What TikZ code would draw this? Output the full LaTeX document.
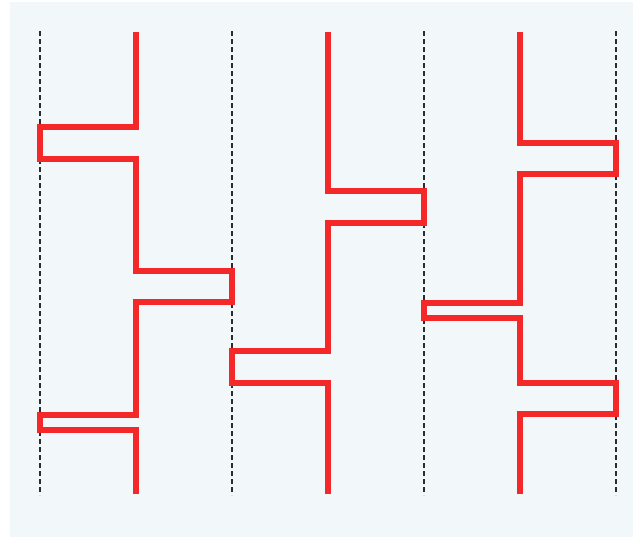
\documentclass[tikz,border=0pt]{standalone}
\usepackage{tikz}
\usetikzlibrary{calc}
\definecolor{bg}{HTML}{F2F7FA}
\definecolor{wirered}{HTML}{F42828}
\definecolor{guidegray}{HTML}{2A2E33}
\tikzset{
  guide/.style={draw=guidegray,line width=1.4pt,dash pattern=on 5pt off 3pt},
  wire/.style={draw=wirered,line width=5.6pt,line join=miter},
}
\begin{document}
\begin{tikzpicture}[x=1pt,y=-1pt]
\useasboundingbox (0,0) rectangle (634,538);
\fill[bg] (10,2) rectangle (633,537);
\foreach \x in {40,232,424,616} \draw[guide] (\x,31) -- (\x,495);
% first wire
\draw[wire] (136,32) -- (136,127) -- (40,127) -- (40,159) -- (136,159) -- (136,271)
  -- (232,271) -- (232,302) -- (136,302) -- (136,415) -- (40,415) -- (40,430)
  -- (136,430) -- (136,494);
% second wire
\draw[wire] (328,32) -- (328,191) -- (424,191) -- (424,223) -- (328,223) -- (328,351)
  -- (232,351) -- (232,383) -- (328,383) -- (328,494);
% third wire
\draw[wire] (520,32) -- (520,143) -- (616,143) -- (616,174) -- (520,174) -- (520,303)
  -- (424,303) -- (424,318) -- (520,318) -- (520,383) -- (616,383) -- (616,414)
  -- (520,414) -- (520,494);
\end{tikzpicture}
\end{document}
